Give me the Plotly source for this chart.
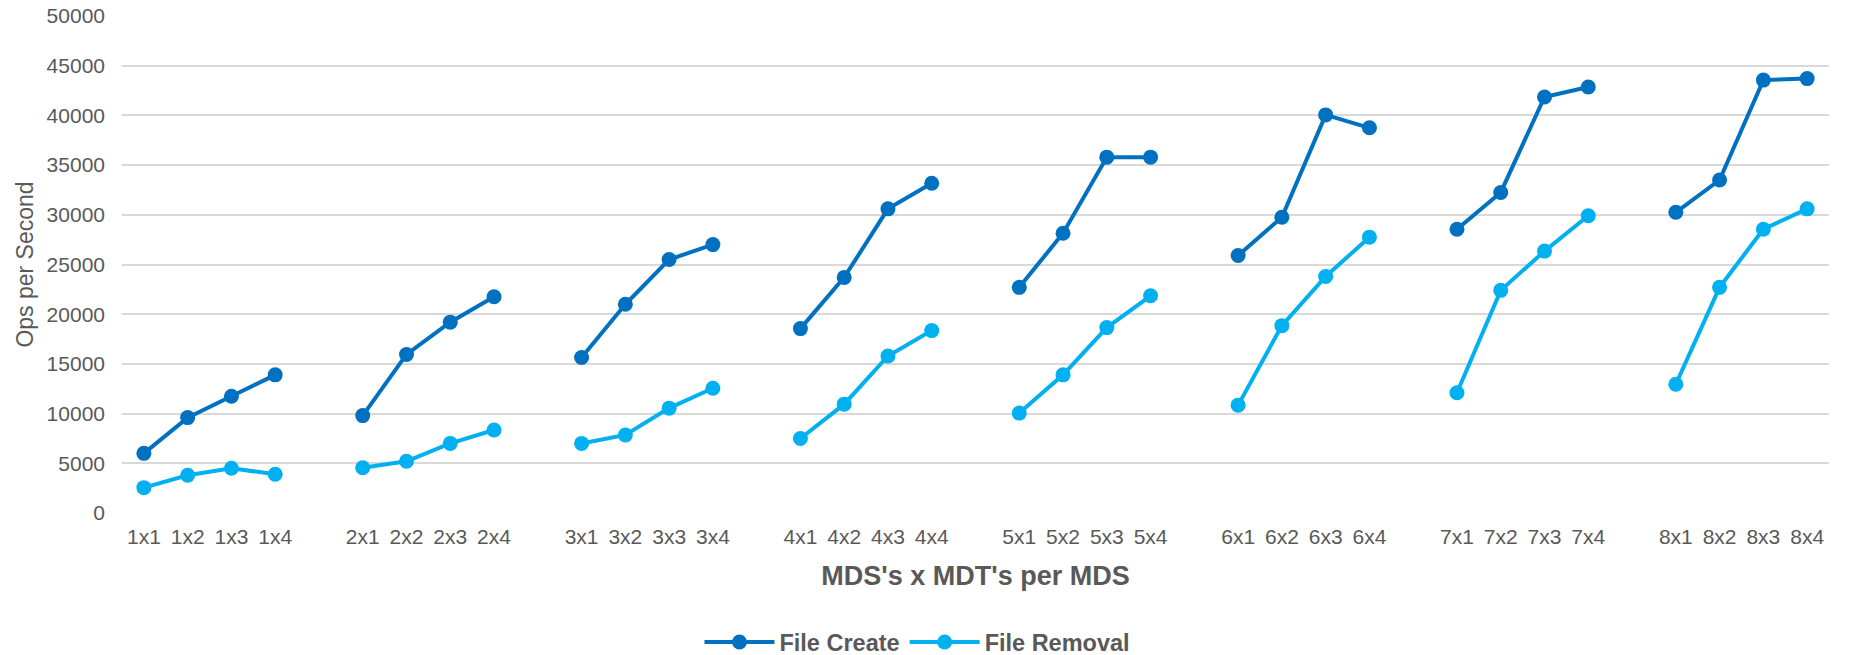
import plotly.graph_objects as go

# Configurations: number of MDS servers x MDTs per MDS
mds_counts = [1, 2, 3, 4, 5, 6, 7, 8]
mdt_counts = [1, 2, 3, 4]

# Operations per second, ordered 1x1, 1x2, ..., 8x4
file_create = [
    6000, 9600, 11750, 13900,
    9800, 15950, 19200, 21750,
    15650, 21000, 25500, 27000,
    18550, 23700, 30600, 33180,
    22700, 28150, 35800, 35800,
    25900, 29750, 40050, 38750,
    28550, 32250, 41850, 42850,
    30250, 33500, 43550, 43700,
]
file_removal = [
    2550, 3800, 4500, 3900,
    4550, 5200, 7000, 8350,
    7000, 7850, 10550, 12550,
    7500, 10950, 15800, 18350,
    10050, 13900, 18650, 21850,
    10850, 18850, 23800, 27750,
    12100, 22400, 26350, 29900,
    12950, 22700, 28550, 30600,
]

y_ticks = [0, 5000, 10000, 15000, 20000, 25000, 30000, 35000, 40000, 45000, 50000]

# Build a category list with a blank spacer slot between MDS groups;
# spacer slots carry None so each group's line stands on its own.
categories, create_y, removal_y = [], [], []
k = 0
for gi, mds in enumerate(mds_counts):
    for mdt in mdt_counts:
        categories.append(f"{mds}x{mdt}")
        create_y.append(file_create[k])
        removal_y.append(file_removal[k])
        k += 1
    if gi < len(mds_counts) - 1:
        categories.append(" " * (gi + 1))
        create_y.append(None)
        removal_y.append(None)

FONT = "Liberation Sans, Arial, sans-serif"
GREY = "#595959"

fig = go.Figure()
fig.add_trace(go.Scatter(
    x=categories, y=create_y, name="File Create", mode="lines+markers",
    line=dict(color="#0070C0", width=4), marker=dict(color="#0070C0", size=15),
    connectgaps=False,
))
fig.add_trace(go.Scatter(
    x=categories, y=removal_y, name="File Removal", mode="lines+markers",
    line=dict(color="#00B0F0", width=4), marker=dict(color="#00B0F0", size=15),
    connectgaps=False,
))

fig.update_layout(
    width=1850, height=655,
    paper_bgcolor="white", plot_bgcolor="white",
    margin=dict(l=122, r=21, t=16, b=142, autoexpand=False),
    font=dict(family=FONT, color=GREY),
    showlegend=True,
    legend=dict(
        orientation="h", x=0.466, xanchor="center", y=-0.26, yanchor="middle",
        font=dict(family=FONT, size=23.5, color=GREY, weight="bold"),
        itemwidth=70, traceorder="normal",
    ),
    xaxis=dict(
        type="category", categoryorder="array", categoryarray=categories,
        range=[-0.5, len(categories) - 0.5],
        automargin=False,
        showgrid=False, showline=False, zeroline=False, ticks="",
        ticklabelstandoff=9,
        tickfont=dict(size=21, color=GREY),
        title=dict(text="MDS's x MDT's per MDS", standoff=19,
                   font=dict(size=27, color=GREY, weight="bold")),
    ),
    yaxis=dict(
        range=[0, 50000], tickvals=y_ticks, tickformat="d",
        automargin=False,
        showgrid=True, gridcolor="#D9D9D9", gridwidth=1.5,
        zeroline=False, showline=False, ticks="",
        ticklabelstandoff=16,
        tickfont=dict(size=21, color=GREY),
        title=dict(text="Ops per Second", standoff=6,
                   font=dict(size=23, color=GREY)),
    ),
)

fig.write_html("out.html")
